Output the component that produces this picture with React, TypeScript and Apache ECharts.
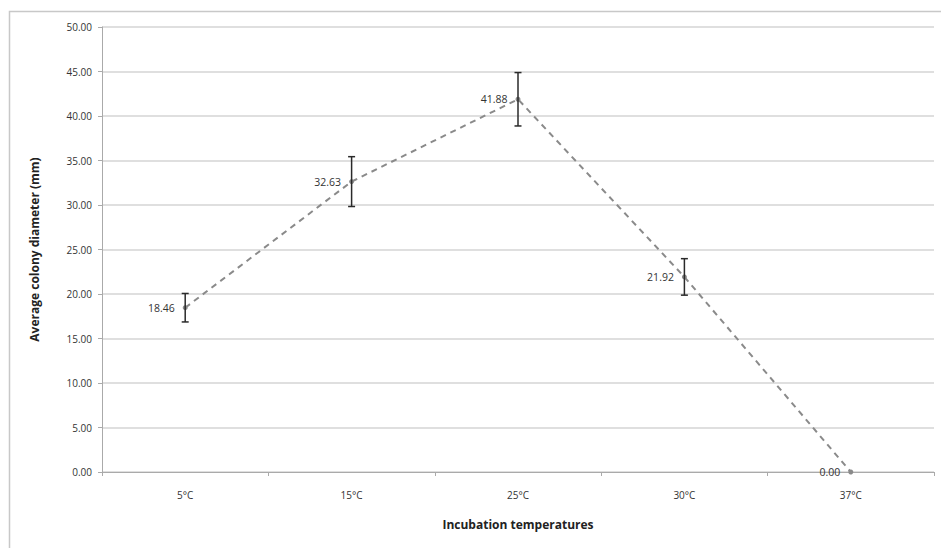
import React, { useEffect, useRef } from "react";
import * as echarts from "echarts";

const categories = ["5°C", "15°C", "25°C", "30°C", "37°C"];
const means = [18.46, 32.63, 41.88, 21.92, 0.0];
const errors = [1.6, 2.8, 3.0, 2.05, 0];
const yTicks = { min: 0, max: 50, interval: 5 };

export default function App() {
  const ref = useRef<HTMLDivElement>(null);
  useEffect(() => {
    if (!ref.current) return;
    const chart = echarts.init(ref.current, null, { renderer: "svg" });
    const font = "'Open Sans', 'Liberation Sans', sans-serif";
    const errData = means.map((m, i) => [i, m - errors[i], m + errors[i]]);
    chart.setOption({
      animation: false,
      backgroundColor: "#fff",
      textStyle: { fontFamily: font },
      graphic: [
        {
          type: "rect",
          shape: { x: 9.5, y: 11.5, width: 1000, height: 600 },
          style: { fill: "none", stroke: "#c8c8c8", lineWidth: 1.5 },
          silent: true,
          z: -10,
        },
      ],
      grid: { left: 102, right: 7, top: 27, bottom: 76 },
      xAxis: {
        type: "category",
        data: categories,
        boundaryGap: true,
        name: "Incubation temperatures",
        nameLocation: "middle",
        nameGap: 46,
        nameTextStyle: { fontSize: 12, fontWeight: "bold", color: "#222", fontFamily: font },
        axisLine: { lineStyle: { color: "#aaa", width: 1 } },
        axisTick: { show: true, alignWithLabel: false, length: 4, lineStyle: { color: "#aaa" } },
        axisLabel: { fontSize: 10, color: "#333", margin: 18, fontFamily: font },
        splitLine: { show: false },
      },
      yAxis: {
        type: "value",
        min: yTicks.min,
        max: yTicks.max,
        interval: yTicks.interval,
        name: "Average colony diameter (mm)",
        nameLocation: "middle",
        nameGap: 62,
        nameTextStyle: { fontSize: 12, fontWeight: "bold", color: "#222", fontFamily: font },
        axisLine: { show: true, lineStyle: { color: "#aaa", width: 1 } },
        axisTick: { show: true, length: 4, lineStyle: { color: "#aaa" } },
        axisLabel: {
          fontSize: 10,
          color: "#333",
          margin: 10,
          fontFamily: font,
          formatter: (v: number) => v.toFixed(2),
        },
        splitLine: { show: true, lineStyle: { color: "#d4d4d4", width: 1.5 } },
      },
      series: [
        {
          type: "line",
          data: means,
          symbol: "circle",
          symbolSize: 5,
          itemStyle: { color: "#8a8a8a" },
          lineStyle: { color: "#8a8a8a", width: 2, type: [6, 5] },
          label: {
            show: true,
            position: "left",
            distance: 8,
            fontSize: 10.5,
            color: "#333",
            fontFamily: font,
            formatter: (p: any) => Number(p.value).toFixed(2),
          },
          z: 3,
        },
        {
          type: "custom",
          data: errData,
          z: 4,
          renderItem: (params: any, api: any) => {
            const i = api.value(0);
            const lo = api.coord([i, api.value(1)]);
            const hi = api.coord([i, api.value(2)]);
            if (Math.abs(hi[1] - lo[1]) < 0.5) return { type: "group", children: [] };
            const cap = 3.5;
            const st = { stroke: "#2a2a2a", lineWidth: 1.5 };
            return {
              type: "group",
              children: [
                { type: "line", shape: { x1: hi[0], y1: hi[1], x2: lo[0], y2: lo[1] }, style: st },
                { type: "line", shape: { x1: hi[0] - cap, y1: hi[1], x2: hi[0] + cap, y2: hi[1] }, style: st },
                { type: "line", shape: { x1: lo[0] - cap, y1: lo[1], x2: lo[0] + cap, y2: lo[1] }, style: st },
              ],
            };
          },
        },
      ],
    });
    return () => chart.dispose();
  }, []);
  return (
    <div
      ref={ref}
      style={{ position: "absolute", left: 0, top: 0, width: 941, height: 548 }}
    />
  );
}
